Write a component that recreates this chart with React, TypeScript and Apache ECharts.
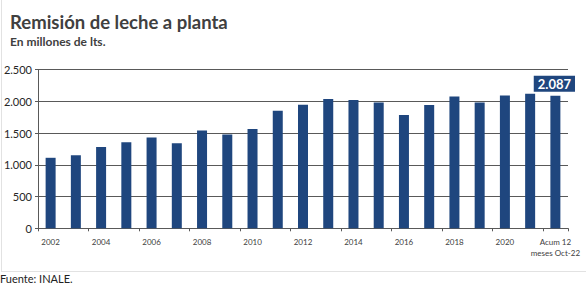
import React, { useEffect, useRef } from "react";
import * as echarts from "echarts";

const categories = [
  "2002", "2003", "2004", "2005", "2006", "2007", "2008", "2009", "2010", "2011",
  "2012", "2013", "2014", "2015", "2016", "2017", "2018", "2019", "2020", "2021",
  "Acum 12\nmeses Oct-22",
];
const values = [
  1110, 1150, 1280, 1355, 1430, 1340, 1540, 1475, 1565, 1850,
  1945, 2035, 2020, 1980, 1785, 1940, 2075, 1980, 2090, 2120,
  2087,
];
const yTicks = [0, 500, 1000, 1500, 2000, 2500];
const highlightIndex = 20;

const fmt = (v: number) => String(v).replace(/\B(?=(\d{3})+(?!\d))/g, ".");

export default function App() {
  const ref = useRef<HTMLDivElement>(null);
  useEffect(() => {
    const chart = echarts.init(ref.current!, null, { renderer: "svg" });
    const font = "Lato, 'Open Sans', sans-serif";
    chart.setOption({
      animation: false,
      backgroundColor: "#ffffff",
      textStyle: { fontFamily: font },
      title: [
        {
          text: "Remisión de leche a planta",
          left: 10,
          top: 12,
          padding: 0,
          textStyle: { fontFamily: font, fontSize: 18.5, fontWeight: "bold", color: "#404040" },
        },
        {
          text: "En millones de lts.",
          left: 10,
          top: 35,
          padding: 0,
          textStyle: { fontFamily: font, fontSize: 12, fontWeight: "bold", color: "#404040" },
        },
        {
          text: "Fuente: INALE.",
          left: 0,
          top: 273,
          padding: 0,
          textStyle: { fontFamily: font, fontSize: 11, fontWeight: "normal", color: "#222", lineHeight: 11 },
        },
      ],
      graphic: [
        { type: "line", shape: { x1: 1.5, y1: 0, x2: 1.5, y2: 272 }, style: { stroke: "#e2e2e2", lineWidth: 1 } },
        { type: "line", shape: { x1: 1.5, y1: 271.5, x2: 586, y2: 271.5 }, style: { stroke: "#e2e2e2", lineWidth: 1 } },
      ],
      grid: { left: 38, right: 18, top: 69.5, bottom: 55.7 },
      xAxis: {
        type: "category",
        data: categories,
        boundaryGap: true,
        axisLine: { lineStyle: { color: "#595959", width: 1 } },
        axisTick: { show: true, length: 3, alignWithLabel: false, lineStyle: { color: "#595959" } },
        axisLabel: {
          interval: 1,
          fontSize: 8,
          color: "#404040",
          margin: 8,
          lineHeight: 11,
          fontFamily: font,
        },
      },
      yAxis: {
        type: "value",
        min: 0,
        max: 2500,
        interval: 500,
        axisLine: { show: true, lineStyle: { color: "#595959", width: 1 } },
        axisTick: { show: true, length: 3, lineStyle: { color: "#595959" } },
        splitLine: { lineStyle: { color: "#595959", width: 1 } },
        axisLabel: {
          fontSize: 11,
          color: "#262626",
          margin: 6,
          fontFamily: font,
          formatter: (v: number) => (yTicks.includes(v) ? fmt(v) : ""),
        },
      },
      series: [
        {
          type: "bar",
          barWidth: 10,
          itemStyle: { color: "#1f467e" },
          data: values.map((v, i) =>
            i === highlightIndex
              ? {
                  value: v,
                  label: {
                    show: true,
                    position: "top",
                    distance: 4,
                    offset: [-1, 0],
                    formatter: (p: any) => fmt(p.value),
                    color: "#ffffff",
                    fontSize: 13,
                    fontWeight: "bold",
                    fontFamily: font,
                    backgroundColor: "#1f467e",
                    padding: [2, 4, 1, 4],
                  },
                }
              : v
          ),
        },
      ],
    });
    return () => chart.dispose();
  }, []);
  return (
    <div
      ref={ref}
      style={{ position: "fixed", left: 0, top: 0, width: 586, height: 284 }}
    />
  );
}
